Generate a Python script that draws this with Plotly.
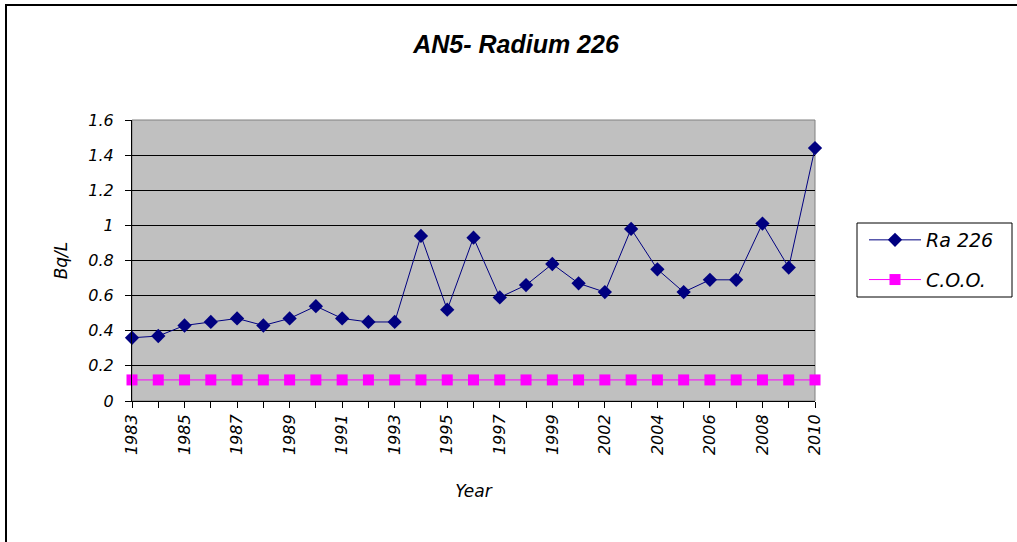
import plotly.graph_objects as go

# Sampling years (no 2000 sample in the record)
years = ["1983", "1984", "1985", "1986", "1987", "1988", "1989", "1990", "1991",
         "1992", "1993", "1994", "1995", "1996", "1997", "1998", "1999", "2001",
         "2002", "2003", "2004", "2005", "2006", "2007", "2008", "2009", "2010"]

# Radium 226 activity, Bq/L
ra226 = [0.36, 0.37, 0.43, 0.45, 0.47, 0.43, 0.47, 0.54, 0.47,
         0.45, 0.45, 0.94, 0.52, 0.93, 0.59, 0.66, 0.78, 0.67,
         0.62, 0.98, 0.75, 0.62, 0.69, 0.69, 1.01, 0.76, 1.44]

# Certificate of operation objective
coo_level = 0.12
coo = [coo_level] * len(years)

y_ticks = [0, 0.2, 0.4, 0.6, 0.8, 1.0, 1.2, 1.4, 1.6]
y_ticktext = ["0", "0.2", "0.4", "0.6", "0.8", "1", "1.2", "1.4", "1.6"]

# every other year is labelled on the axis
x_ticktext = [y if i % 2 == 0 else "" for i, y in enumerate(years)]

W, H = 1017, 542
L, R, T, B = 132, 815, 120, 401   # plot area in pixels


def px(x):
    return (x - L) / (R - L)


def py(y):
    return (B - y) / (B - T)


sans = "Liberation Sans, Arial, sans-serif"
wide = "DejaVu Sans, Verdana, sans-serif"

fig = go.Figure()

fig.add_trace(go.Scatter(
    x=years, y=ra226, name="Ra 226", mode="lines+markers",
    line=dict(color="#000080", width=1),
    marker=dict(symbol="diamond", size=11, color="#000080"),
    cliponaxis=False, legendgroup="a",
))
fig.add_trace(go.Scatter(
    x=years, y=coo, name="C.O.O.", mode="lines+markers",
    line=dict(color="#FF00FF", width=1),
    marker=dict(symbol="square", size=11, color="#FF00FF"),
    cliponaxis=False, legendgroup="b",
))

fig.update_layout(
    width=W, height=H,
    margin=dict(l=L, r=W - R, t=T, b=H - B, pad=0),
    paper_bgcolor="white",
    plot_bgcolor="#C0C0C0",
    font=dict(family=wide, size=15, color="black"),
    title=dict(
        text="AN5- Radium 226",
        x=516 / W, xanchor="center",
        y=1 - 44 / H, yanchor="middle",
        font=dict(family=sans, size=25, color="black", weight="bold", style="italic"),
    ),
    xaxis=dict(
        type="category",
        categoryorder="array", categoryarray=years,
        range=[0, len(years) - 1],
        tickmode="array", tickvals=years, ticktext=x_ticktext,
        tickangle=-90,
        ticks="outside", ticklen=6, tickcolor="black", tickwidth=1,
        showgrid=False, zeroline=False,
        showline=True, linecolor="black", linewidth=1,
        tickfont=dict(family=wide, size=16, style="italic"),
        title=dict(text="Year", standoff=30,
                   font=dict(family=wide, size=17, style="italic")),
    ),
    yaxis=dict(
        range=[0, 1.6],
        tickmode="array", tickvals=y_ticks, ticktext=y_ticktext,
        ticks="outside", ticklen=6, tickcolor="black", tickwidth=1,
        ticklabelstandoff=8,
        showgrid=True, gridcolor="black", gridwidth=1,
        zeroline=False,
        showline=True, linecolor="black", linewidth=1,
        tickfont=dict(family=wide, size=16, style="italic"),
        title=dict(text="Bq/L", standoff=16,
                   font=dict(family=wide, size=17, style="italic")),
    ),
    legend=dict(
        x=px(864), y=py(221), xanchor="left", yanchor="top",
        bgcolor="rgba(0,0,0,0)", borderwidth=0,
        font=dict(family=wide, size=19, style="italic"),
        tracegroupgap=12, itemwidth=52,
    ),
    shapes=[
        # plot area frame (top and right edges are grey)
        dict(type="rect", xref="paper", yref="paper", x0=0, x1=1, y0=0, y1=1,
             line=dict(color="#808080", width=1), layer="below"),
        # legend box
        dict(type="rect", xref="paper", yref="paper",
             x0=px(857), x1=px(1012), y0=py(297), y1=py(223),
             line=dict(color="black", width=1), fillcolor="white", layer="below"),
        # outer chart frame
        dict(type="rect", xref="paper", yref="paper",
             x0=px(6), x1=px(1030), y0=py(560), y1=py(5),
             line=dict(color="black", width=2)),
    ],
)

fig.write_html("out.html")
